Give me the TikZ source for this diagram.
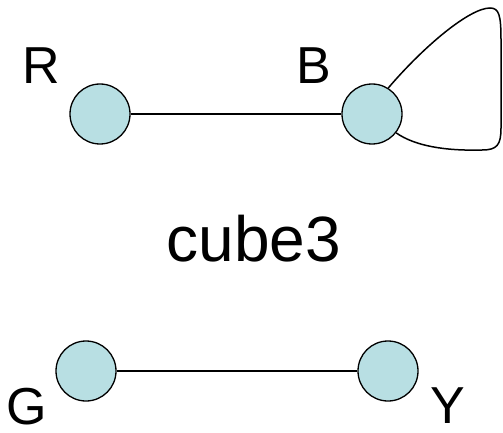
\documentclass[tikz,border=0pt]{standalone}
\usepackage{fontspec}
\setmainfont{Liberation Sans}
\usetikzlibrary{positioning}
\definecolor{vertexfill}{HTML}{B8DFE3}

\begin{document}
\begin{tikzpicture}[
    x=0.5pt, y=-0.5pt,
    vertex/.style={
        circle,
        draw,
        line width=0.65pt,
        fill=vertexfill,
        minimum size=30pt,
        inner sep=0pt
    },
    vlabel/.style={font=\fontsize{26}{30}\selectfont, inner sep=0pt},
    edge/.style={line width=0.75pt}
]
\useasboundingbox (0,0) rectangle (503,433);

% Vertices
\node[vertex] (R) at (100,114) {};
\node[vertex] (B) at (372,114) {};
\node[vertex] (G) at (86,371) {};
\node[vertex] (Y) at (388,371) {};

% Labels
\node[vlabel] (Rlab) at (41,66) {R};
\node[vlabel] (Blab) at (314,66) {B};
\node[vlabel] (Glab) at (27,407) {G};
\node[vlabel] (Ylab) at (448,406) {Y};
\node[font=\fontsize{32}{36}\selectfont, inner sep=0pt] (title) at (254,239) {cube3};

% Edges
\draw[edge] (R) -- (B);
\draw[edge] (G) -- (Y);
\draw[edge] (B.58) .. controls (425,45) and (470,8) .. (490,8)
    .. controls (499,8) and (501,15) .. (501,40) -- (501,128)
    .. controls (501,145) and (497,150) .. (482,150)
    .. controls (445,151) and (415,146) .. (B.-38);

\end{tikzpicture}
\end{document}
